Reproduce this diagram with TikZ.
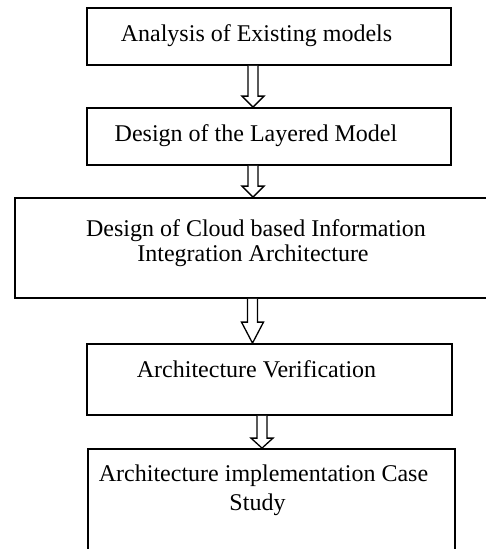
\documentclass[tikz,border=0pt]{standalone}
\usepackage{fontspec}
\setmainfont{Liberation Serif}
\usetikzlibrary{calc}

\tikzset{
  stagebox/.style={draw=black, line width=1.8pt, rectangle, inner sep=0pt},
  stagetext/.style={font=\fontsize{24}{27}\selectfont, anchor=base, align=center, inner sep=0pt},
  hollowarrow/.style={draw=black, line width=1.3pt, fill=white, line join=miter}
}

% hollow block arrow pointing down from node #3 to node #4 at horizontal
% position #2, with a head #1 long
\newcommand{\flowarrow}[4][11]{%
  \draw[hollowarrow] let \p1 = (#3.south), \p2 = (#4.north) in
    (#2pt-5pt, \y1) -- (#2pt-5pt, \y2+#1pt) -- (#2pt-11pt, \y2+#1pt) --
    (#2pt, \y2) -- (#2pt+11pt, \y2+#1pt) -- (#2pt+5pt, \y2+#1pt) --
    (#2pt+5pt, \y1);%
}

\begin{document}
\begin{tikzpicture}[x=1pt, y=-1pt]
  \useasboundingbox (0,0) rectangle (486,549);
  \clip (0,0) rectangle (486,549);

  % stage boxes
  \node[stagebox, minimum width=364pt, minimum height=57pt] (b1) at (269,36.5) {};
  \node[stagebox, minimum width=364pt, minimum height=57pt] (b2) at (269,136.5) {};
  \node[stagebox, minimum width=490pt, minimum height=100pt] (b3) at (260,248) {};
  \node[stagebox, minimum width=365pt, minimum height=71pt] (b4) at (269.5,379.5) {};
  \node[stagebox, minimum width=367pt, minimum height=160pt] (b5) at (271.5,529) {};

  % stage labels
  \node[stagetext] (t1) at (256.5,41.7) {Analysis of Existing models};
  \node[stagetext] (t2) at (256,141.7) {Design of the Layered Model};
  \node[stagetext] (t3a) at (256,236.7) {Design of Cloud based Information};
  \node[stagetext] (t3b) at (253,261.7) {Integration Architecture};
  \node[stagetext] (t4) at (256.5,377) {Architecture Verification};
  \node[stagetext] (t5a) at (263.5,481) {Architecture implementation Case};
  \node[stagetext] (t5b) at (257.5,510) {Study};

  % flow arrows between stages
  \flowarrow{253}{b1}{b2}
  \flowarrow{253}{b2}{b3}
  \flowarrow[21]{252.5}{b3}{b4}
  \flowarrow[10]{262}{b4}{b5}
\end{tikzpicture}
\end{document}
